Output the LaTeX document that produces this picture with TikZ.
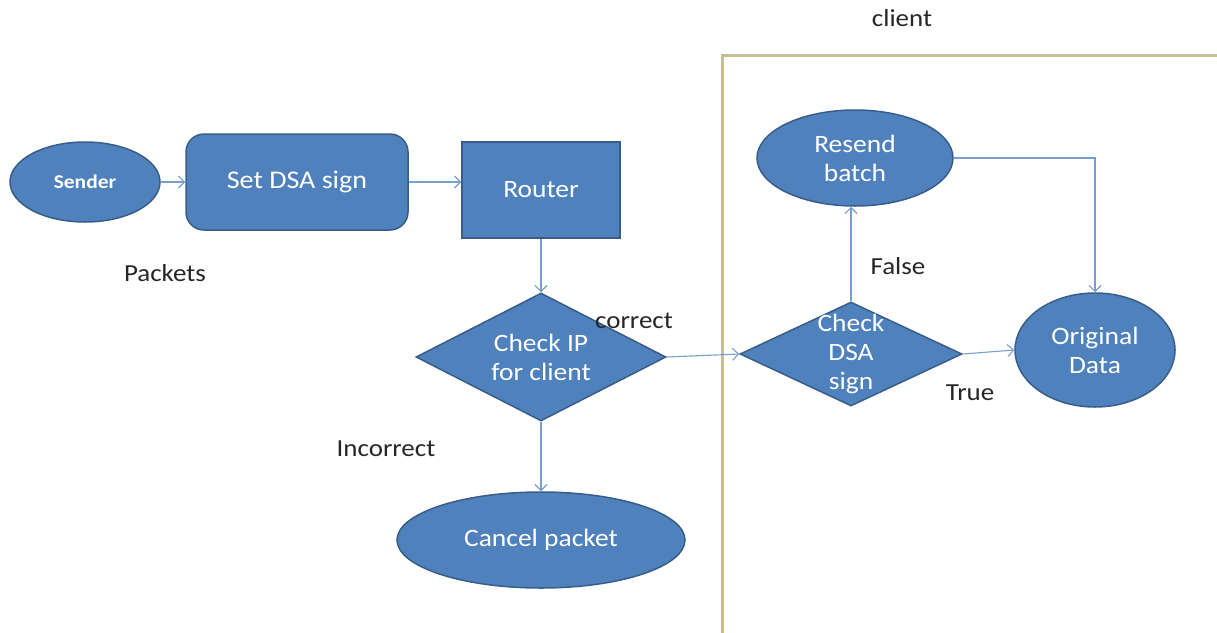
\documentclass[tikz,border=0pt]{standalone}
\usepackage{fontspec}
\setmainfont{Carlito}[FakeStretch=1.1]
\usetikzlibrary{arrows,arrows.meta,shapes.geometric}

\definecolor{boxblue}{RGB}{79,129,189}
\definecolor{boxedge}{RGB}{56,93,138}
\definecolor{linkblue}{RGB}{120,158,210}
\definecolor{clienttan}{RGB}{200,190,150}

\tikzset{
  block/.style={fill=boxblue, draw=boxedge, line width=1.5pt, text=white,
    font=\fontsize{25}{29}\selectfont, align=center, inner sep=0pt},
  oval/.style={block, ellipse},
  decide/.style={block, diamond},
  link/.style={-{Straight Barb[length=6pt,width=12pt]}, draw=linkblue, line width=1.1pt},
  note/.style={font=\fontsize{24.5}{28}\selectfont, text=black!85}
}

\begin{document}
\begin{tikzpicture}[x=1pt,y=-1pt]

      \useasboundingbox (0,0) rectangle (1217,632);

      % client area
      \draw [clienttan, line width=3pt] (722,640) -- (722,55) -- (1225,55);
      \node[note] (clientlbl) at (902,18) {client};

      \node[oval, minimum width=150, minimum height=80, font=\bfseries\fontsize{19.5}{23}\selectfont] (sender) at (85,182) {Sender};
      \node[block, rounded corners=18pt, minimum width=222, minimum height=96, font=\fontsize{25.5}{30}\selectfont] (setdsa) at (297,182) {Set DSA sign};
      \node[block, minimum width=158, minimum height=96] (router) at (541,190) {Router};
      \node[decide, minimum width=250, minimum height=128, inner sep=-8pt] (checkip) at (541,357) {Check IP\\for client};
      \node[oval, minimum width=288, minimum height=96] (cancel) at (541,540) {Cancel packet};
      \node[decide, minimum width=222, minimum height=104, inner sep=-22pt] (checkdsa) at (851,354) {Check\\DSA\\sign};
      \node[oval, minimum width=196, minimum height=96] (resend) at (855,158) {Resend\\batch};
      \node[oval, minimum width=160, minimum height=114] (orig) at (1095,350) {Original\\Data};

      \draw[link] (sender) -- (setdsa);
      \draw[link] (setdsa) -- (router.west |- setdsa);
      \draw[link] (router.south -| checkip.north) -- (checkip.north);
      \draw[link] (checkip.east) -- (checkdsa.west);
      \draw[link] (checkip.south) -- (cancel.north);
      \draw[link] (checkdsa.north) -- (resend.south -| checkdsa.north);
      \draw[link] (checkdsa.east) -- (orig.west);
      \draw[link] (resend.east) -| (orig.north);

      \node[note] (packets) at (165,273) {Packets};
      \node[note] (correct) at (634,321) {correct};
      \node[note] (incorrect) at (386,449) {Incorrect};
      \node[note] (false) at (898,266) {False};
      \node[note] (true) at (970,393) {True};

    \end{tikzpicture}
\end{document}
